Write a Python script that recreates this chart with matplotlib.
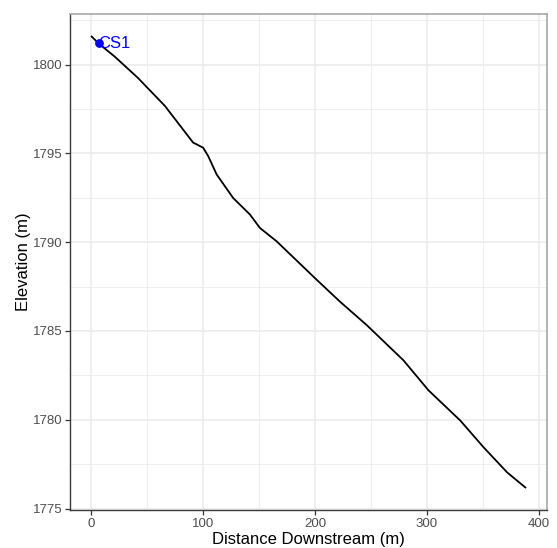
import matplotlib
matplotlib.use('Agg')
import matplotlib.pyplot as plt
from matplotlib.ticker import MultipleLocator

plt.rcParams['font.family'] = ['Liberation Sans', 'DejaVu Sans']

# profile
dist = [0.3, 6.5, 20.9, 41.5, 65.7, 91.0, 100.0, 104.5, 112.0, 126.8, 141.8,
        150.8, 165.7, 201.6, 222.4, 246.3, 279.1, 301.5, 329.9, 350.8, 371.8, 388.1]
elev = [1801.58, 1801.19, 1800.45, 1799.26, 1797.68, 1795.61, 1795.32, 1794.85,
        1793.82, 1792.49, 1791.56, 1790.80, 1790.05, 1787.88, 1786.65, 1785.33,
        1783.35, 1781.66, 1779.96, 1778.45, 1777.04, 1776.19]

cs_name = ['CS1']
cs_dist = [6.5]
cs_elev = [1801.19]

fig = plt.figure(figsize=(5.57, 5.48), dpi=100)
ax = fig.add_axes([70/557, 1 - 510/548, 477/557, 496/548])

ax.plot(dist, elev, color='black', lw=1.3, zorder=3)
ax.scatter(cs_dist, cs_elev, color='blue', s=28, zorder=4)
for n, xx, yy in zip(cs_name, cs_dist, cs_elev):
    ax.text(xx, yy, n, color='blue', fontsize=12, ha='left', va='center', zorder=5)

span = max(dist) - min(dist)
ax.set_xlim(min(dist) - 0.05 * span, max(dist) + 0.05 * span)
span = max(elev) - min(elev)
ax.set_ylim(min(elev) - 0.05 * span, max(elev) + 0.05 * span)

ax.xaxis.set_major_locator(MultipleLocator(100))
ax.xaxis.set_minor_locator(MultipleLocator(50))
ax.yaxis.set_major_locator(MultipleLocator(5))
ax.yaxis.set_minor_locator(MultipleLocator(2.5))

ax.grid(which='major', color='#EBEBEB', lw=1.1)
ax.grid(which='minor', color='#EBEBEB', lw=0.55)
ax.set_axisbelow(True)
# light frame on top/right, darker axis lines on bottom/left
for side in ['top', 'right']:
    ax.spines[side].set_color('#A8A8A8')
    ax.spines[side].set_linewidth(1.2)
for side in ['bottom', 'left']:
    ax.spines[side].set_color('#3A3A3A')
    ax.spines[side].set_linewidth(1.0)

ax.tick_params(which='major', length=3.5, width=0.9, color='#333333',
               labelcolor='#4D4D4D', labelsize=9.5, pad=2)
ax.tick_params(which='minor', length=0)

ax.set_xlabel('Distance Downstream (m)', fontsize=12, labelpad=2)
ax.set_ylabel('Elevation (m)', fontsize=12, labelpad=1.5)

fig.savefig('out.png', dpi=100)
